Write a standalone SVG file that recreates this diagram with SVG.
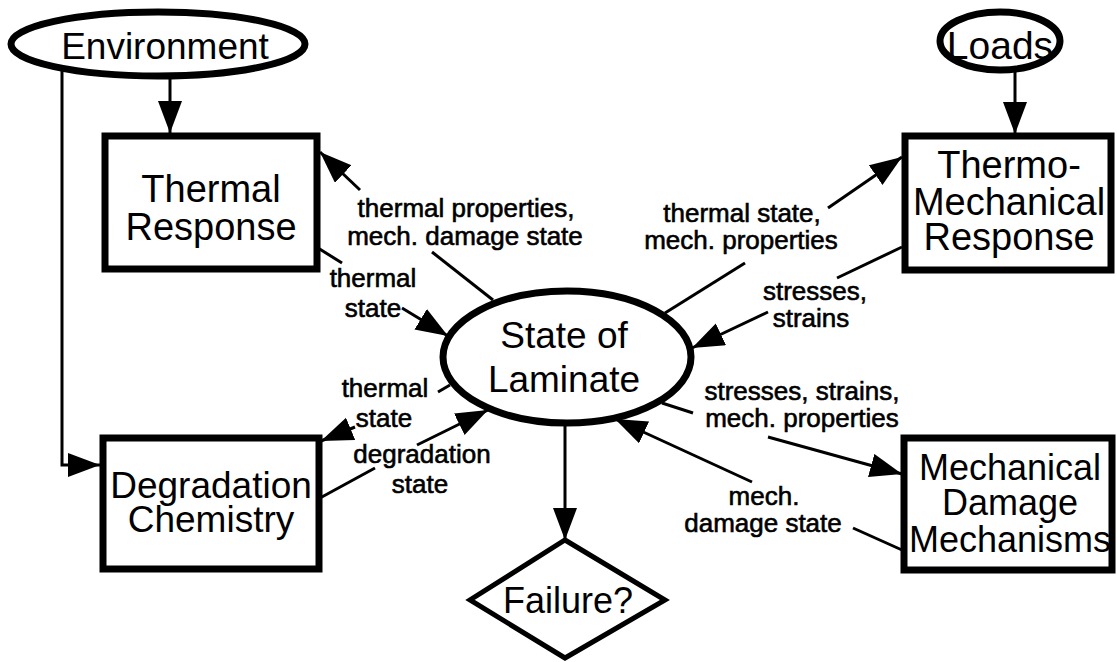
<svg xmlns="http://www.w3.org/2000/svg" width="1117" height="662" viewBox="0 0 1117 662">
<defs>
<style>
.node{fill:#fff;stroke:#000;stroke-width:7}
.big{font-family:"Liberation Sans",Arial,sans-serif;font-size:37px;text-anchor:middle;fill:#000}
.lbl{font-family:"Liberation Sans",Arial,sans-serif;font-size:26px;text-anchor:middle;fill:#000;stroke:#000;stroke-width:0.6}
.c{fill:none;stroke:#000;stroke-width:3}
.ca{fill:none;stroke:#000;stroke-width:3;marker-end:url(#ah)}
</style>
<marker id="ah" markerUnits="userSpaceOnUse" markerWidth="34" markerHeight="26" refX="32" refY="12" orient="auto" viewBox="0 0 34 26">
<path d="M0,0 L32,12 L0,24 Z" fill="#000"/>
</marker>
</defs>
<rect width="1117" height="662" fill="#fff"/>

<g id="connectors">
<line class="ca" x1="170" y1="77" x2="170" y2="133"/>
<line class="ca" x1="1015" y1="70" x2="1015" y2="134"/>
<polyline class="ca" points="62,68 62,465 100,465"/>
<line class="c" x1="493" y1="300" x2="432" y2="252"/>
<line class="ca" x1="360" y1="190" x2="320" y2="152"/>
<line class="c" x1="318" y1="248" x2="342" y2="263"/>
<line class="ca" x1="402" y1="308" x2="448" y2="336"/>
<line class="c" x1="665" y1="313" x2="745" y2="263"/>
<line class="ca" x1="828" y1="208" x2="902" y2="157"/>
<line class="c" x1="902" y1="247" x2="837" y2="278"/>
<line class="ca" x1="768" y1="312" x2="692" y2="348"/>
<line class="c" x1="662" y1="403" x2="693" y2="413"/>
<line class="ca" x1="768" y1="437" x2="902" y2="474"/>
<line class="c" x1="902" y1="550" x2="853" y2="528"/>
<line class="ca" x1="752" y1="482" x2="615" y2="419"/>
<line class="c" x1="450" y1="385" x2="438" y2="392"/>
<line class="ca" x1="355" y1="427" x2="321" y2="441"/>
<line class="c" x1="320" y1="498" x2="375" y2="468"/>
<line class="ca" x1="417" y1="445" x2="488" y2="410"/>
<line class="ca" x1="565" y1="425" x2="565" y2="540"/>
</g>

<g id="labels">
<text class="lbl" y="217"><tspan x="466">thermal properties,</tspan><tspan x="465" dy="28">mech. damage state</tspan></text>
<text class="lbl" y="287"><tspan x="373">thermal</tspan><tspan x="373" dy="30">state</tspan></text>
<text class="lbl" y="222"><tspan x="742">thermal state,</tspan><tspan x="741" dy="27">mech. properties</tspan></text>
<text class="lbl" y="300"><tspan x="815">stresses,</tspan><tspan x="811" dy="27">strains</tspan></text>
<text class="lbl" y="400"><tspan x="802">stresses, strains,</tspan><tspan x="802" dy="27">mech. properties</tspan></text>
<text class="lbl" y="505"><tspan x="764">mech.</tspan><tspan x="763" dy="27">damage state</tspan></text>
<text class="lbl" y="397"><tspan x="385">thermal</tspan><tspan x="384" dy="30">state</tspan></text>
<text class="lbl" y="463"><tspan x="422">degradation</tspan><tspan x="420" dy="30">state</tspan></text>
</g>

<g id="environment">
<ellipse class="node" cx="158" cy="44" rx="147" ry="32"/>
<text class="big" x="165" y="59">Environment</text>
</g>

<g id="loads">
<ellipse class="node" cx="1000" cy="41" rx="60" ry="29"/>
<text class="big" x="1000" y="59" style="font-size:39px">Loads</text>
</g>

<g id="thermal-response">
<rect class="node" x="105" y="136" width="212" height="133"/>
<text class="big" y="202" style="font-size:38px"><tspan x="211">Thermal</tspan><tspan x="211" dy="38">Response</tspan></text>
</g>

<g id="thermo-mechanical-response">
<rect class="node" x="905" y="136" width="206" height="134"/>
<text class="big" y="178" style="font-size:38px"><tspan x="1009">Thermo-</tspan><tspan x="1009" dy="37">Mechanical</tspan><tspan x="1009" dy="35">Response</tspan></text>
</g>

<g id="state-of-laminate">
<ellipse class="node" cx="567" cy="357" rx="124" ry="66"/>
<text class="big" y="348"><tspan x="564">State of</tspan><tspan x="564" dy="44">Laminate</tspan></text>
</g>

<g id="degradation-chemistry">
<rect class="node" x="103" y="438" width="216" height="131"/>
<text class="big" y="498"><tspan x="211">Degradation</tspan><tspan x="211" dy="34">Chemistry</tspan></text>
</g>

<g id="mechanical-damage-mechanisms">
<rect class="node" x="904" y="438" width="208" height="132"/>
<text class="big" y="480" style="font-size:36px"><tspan x="1010">Mechanical</tspan><tspan x="1010" dy="35">Damage</tspan><tspan x="1010" dy="37">Mechanisms</tspan></text>
</g>

<g id="failure">
<polygon class="node" points="565,540 665,600 565,658 470,600" style="stroke-width:5"/>
<text class="big" x="568" y="613" style="font-size:36px">Failure?</text>
</g>
</svg>
